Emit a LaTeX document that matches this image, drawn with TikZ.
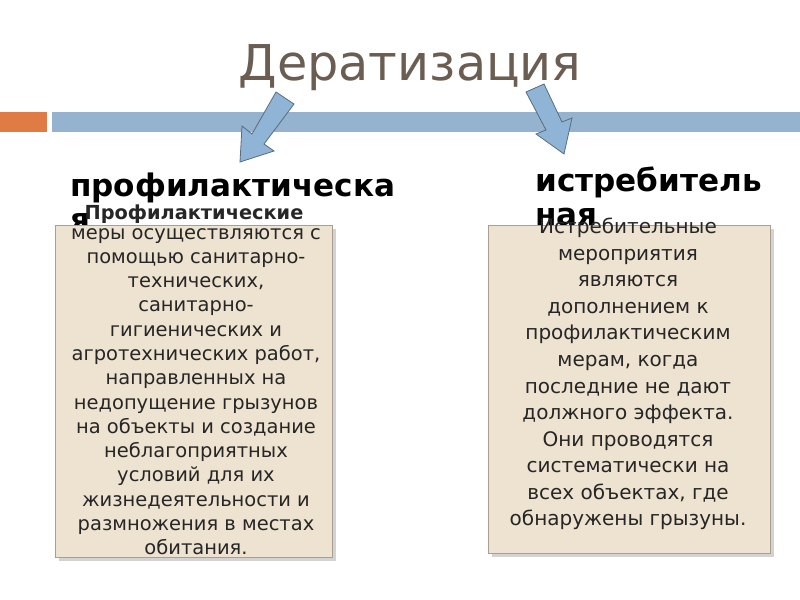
\documentclass[tikz,border=0pt]{standalone}
\usepackage{fontspec}
\setmainfont{DejaVu Sans}
\usetikzlibrary{shadows}
\definecolor{titlegray}{HTML}{6B5D52}
\definecolor{barblue}{HTML}{95B3CF}
\definecolor{barorange}{HTML}{E07B45}
\definecolor{boxfill}{HTML}{EEE3D0}
\definecolor{arrowblue}{HTML}{8FB4D6}
\tikzset{
  textbox/.style={draw=boxfill!70!black, fill=boxfill, drop shadow={opacity=.35}},
  heading/.style={font=\bfseries\fontsize{23.3}{27}\selectfont, anchor=west, inner sep=0},
  bodytext/.style={align=center, inner sep=0, anchor=north},
  bigarrow/.style={fill=arrowblue, draw=arrowblue!60!black, line width=.6pt}
}
\begin{document}
\begin{tikzpicture}[x=0.75pt,y=-0.75pt]
  \useasboundingbox (0,0) rectangle (800,600);

  % Title and bars
  \node[text=titlegray, font=\fontsize{37}{42}\selectfont] (title) at (410,68) {Дератизация};
  \fill[barorange] (0,112) rectangle (47,132);
  \fill[barblue] (52,112) rectangle (800,132);

  % Arrows
  \draw[bigarrow] (276,92) -- (294,104) -- (264,144) -- (274,151) -- (240,162)
    -- (242,126) -- (252,134) -- cycle;
  \draw[bigarrow] (526,92) -- (544,84) -- (562,122) -- (572,118) -- (564,154)
    -- (536,134) -- (546,130) -- cycle;

  % Headings
  \node[heading] (prof) at (70,188) {профилактическа};
  \node[heading] at (70,222) {я};
  \node[heading] (istr) at (535,182) {истребитель};
  \node[heading] at (535,217) {ная};

  % Boxes
  \node[textbox, minimum width=277*0.75pt, minimum height=332*0.75pt, anchor=north west]
    (leftbox) at (55,225) {};
  \node[textbox, minimum width=282*0.75pt, minimum height=328*0.75pt, anchor=north west]
    (rightbox) at (488,225) {};

  % Box texts
  \node[font=\bfseries\fontsize{14.5}{17}\selectfont, text=black!85, inner sep=0]
    (leftlead) at (194,214) {Профилактические};
  \node[bodytext, font=\fontsize{14.6}{18.2}\selectfont, text=black!85] (lefttext) at (196,228)
    {меры осуществляются с\\помощью санитарно-\\технических,\\санитарно-\\гигиенических и\\агротехнических работ,\\направленных на\\недопущение грызунов\\на объекты и создание\\неблагоприятных\\условий для их\\жизнедеятельности и\\размножения в местах\\обитания.};
  \node[bodytext, font=\fontsize{15}{19.9}\selectfont, text=black!85] (righttext) at (628,218)
    {Истребительные\\мероприятия\\являются\\дополнением к\\профилактическим\\мерам, когда\\последние не дают\\должного эффекта.\\Они проводятся\\систематически на\\всех объектах, где\\обнаружены грызуны.};
\end{tikzpicture}
\end{document}
